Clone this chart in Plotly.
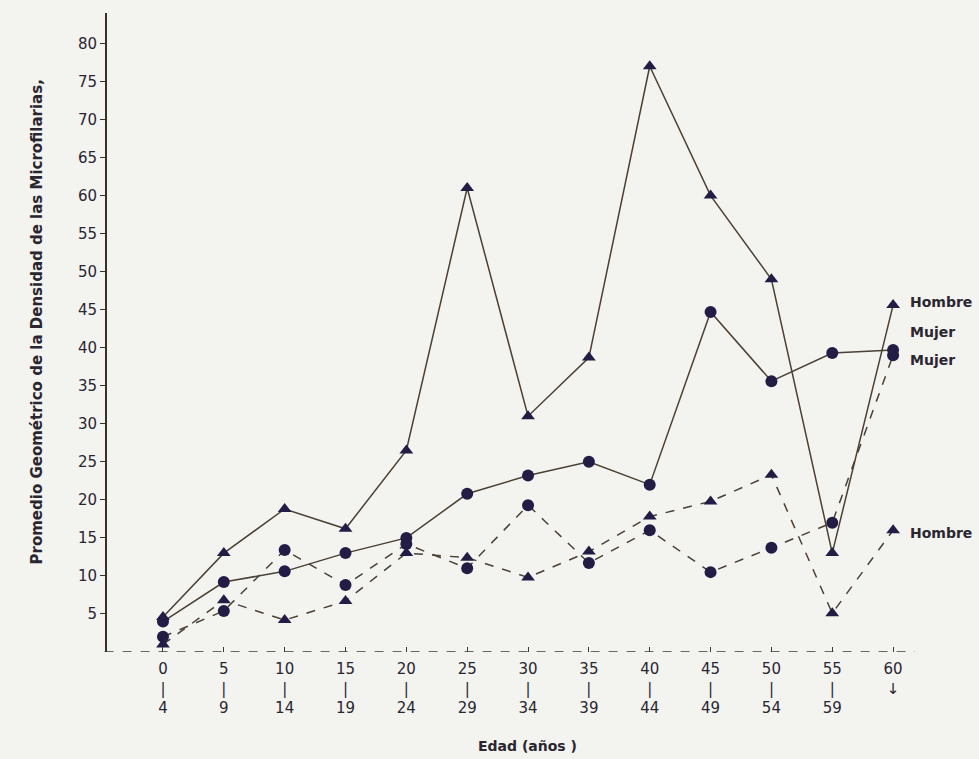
import plotly.graph_objects as go

# Age groups (start of 5-year band) and their tick labels
age_start = [0, 5, 10, 15, 20, 25, 30, 35, 40, 45, 50, 55, 60]
tick_labels = ["0<br>|<br>4", "5<br>|<br>9", "10<br>|<br>14", "15<br>|<br>19",
               "20<br>|<br>24", "25<br>|<br>29", "30<br>|<br>34", "35<br>|<br>39",
               "40<br>|<br>44", "45<br>|<br>49", "50<br>|<br>54", "55<br>|<br>59",
               "60<br>↓"]

# Geometric mean microfilarial density
hombre_solid = [4.6, 13.0, 18.8, 16.2, 26.5, 61.0, 31.0, 38.7, 77.0, 60.0, 49.0, 13.0, 45.6]
mujer_solid = [4.0, 9.2, 10.6, 13.0, 15.0, 20.8, 23.2, 25.0, 22.0, 44.7, 35.6, 39.3, 39.7]
hombre_dashed = [1.0, 6.8, 4.2, 6.7, 13.0, 12.4, 9.8, 13.2, 17.8, 19.8, 23.3, 5.1, 16.0]
mujer_dashed = [2.0, 5.4, 13.4, 8.8, 14.2, 11.0, 19.3, 11.7, 16.0, 10.5, 13.7, 17.0, 39.0]

y_ticks = list(range(5, 85, 5))

# right-hand series labels
series_labels = ["Hombre", "Mujer", "Mujer", "Hombre"]
series_label_y = [46.0, 42.1, 38.4, 15.6]

line_col = "#4a4034"
mk_col = "#231d45"
txt_col = "#2a2630"
font_fam = "DejaVu Sans"

fig = go.Figure()

def add(y, symbol, dash, name):
    fig.add_trace(go.Scatter(
        x=age_start, y=y, mode="lines+markers", name=name,
        line=dict(color=line_col, width=1.5, dash=dash),
        marker=dict(symbol=symbol, size=12, color=mk_col),
        cliponaxis=False, showlegend=False))

add(hombre_dashed, "triangle-up", "dash", "Hombre")
add(mujer_dashed, "circle", "dash", "Mujer")
add(mujer_solid, "circle", "solid", "Mujer")
add(hombre_solid, "triangle-up", "solid", "Hombre")

# baseline (dashed x axis)
fig.add_shape(type="line", xref="paper", yref="y", x0=-0.003, x1=1.0, y0=0, y1=0,
              line=dict(color="#3a3a3a", width=1.5, dash="dash"))

for t, yv in zip(series_labels, series_label_y):
    fig.add_annotation(x=61.2, y=yv, xref="x", yref="y", text="<b>" + t + "</b>",
                       showarrow=False, xanchor="left",
                       font=dict(size=14, color=txt_col, family=font_fam))

fig.add_annotation(x=-0.1, y=0.516, xref="paper", yref="paper",
                   text="<b>Promedio Geométrico de la Densidad de las Microfilarias,</b>",
                   textangle=-90, showarrow=False,
                   font=dict(size=15, color=txt_col, family=font_fam))
fig.add_annotation(x=0.521, y=-0.163, xref="paper", yref="paper",
                   text="<b>Edad (años )</b>", showarrow=False,
                   font=dict(size=14, color=txt_col, family=font_fam))

fig.update_xaxes(range=[-4.6, 61.8], tickmode="array", tickvals=age_start,
                 ticktext=tick_labels, showgrid=False, zeroline=False, showline=False,
                 ticks="inside", ticklen=5, tickcolor="#3a3a3a", ticklabelstandoff=6,
                 tickfont=dict(size=15, color=txt_col, family=font_fam))
fig.update_yaxes(range=[0, 84], tickmode="array", tickvals=y_ticks,
                 showgrid=False, zeroline=False, showline=True, linecolor="#3a2f25",
                 linewidth=2, ticks="outside", ticklen=5, tickcolor="#3a2f25",
                 tickfont=dict(size=15, color=txt_col, family=font_fam))

fig.update_layout(width=979, height=759, margin=dict(l=107, r=64, t=13, b=107),
                  paper_bgcolor="#f3f3f0", plot_bgcolor="#f3f3f0")

fig.write_html("out.html", config={"displayModeBar": False},
               post_script="document.body.style.margin='0px';document.body.style.overflow='hidden';")
